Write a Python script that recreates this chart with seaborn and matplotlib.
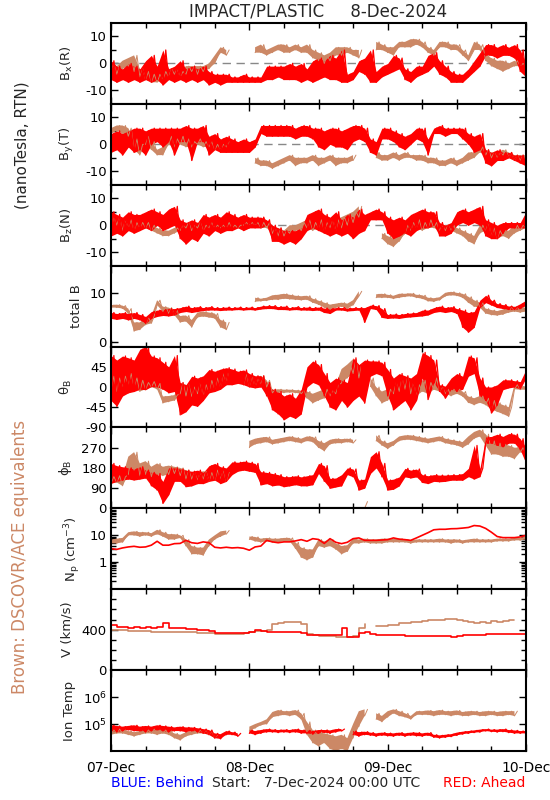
import numpy as np
import pandas as pd
import seaborn as sns
import matplotlib.pyplot as plt
from matplotlib.ticker import FixedLocator, NullFormatter, LogLocator

N = np.nan

# hours since 07-Dec-2024 00:00, one value per hour
HOURS = np.arange(73)
DAY_TICKS = [0, 24, 48, 72]
DAY_LABELS = ['07-Dec', '08-Dec', '09-Dec', '10-Dec']

# --- B_x(R) ---
BX_RED_LO = [-6, -7, -6, -7, -6, -7, -6, -7, -6, -8,
             -6, -7, -6, -7, -6, -7, -6, -8, -7, -8,
             -7, -7, -7, -7, -7, -7, -7, -6, -6, -5,
             -6, -6, -6, -7, -6, -7, -6, -5, -6, -6,
             -7, -7, -6, -3, -4, -7, -7, -5, -4, -3,
             -2, -6, -7, -5, -4, -3, -1, -4, -5, -7,
             -7, -7, -5, -3, -1, 3, 3, 2, 3, 3,
             2, -3, -5]
BX_RED_HI = [1, -1, -2, 0, -1, -2, 1, 3, -1, 5,
             -2, -1, 1, -2, -1, -2, -1, -3, -4, -4,
             -4, -5, -5, -4, -5, -5, -5, -1, -1, -1,
             -1, 0, -1, 0, -2, 1, 2, 1, 3, 2,
             5, -4, -3, 1, 2, 5, -3, -1, 0, 3,
             2, -2, -3, -1, -1, 3, 4, 1, -1, -3,
             -4, -4, -2, 1, 4, 7, 7, 6, 7, 6,
             7, 5, 0]
BX_BRN_LO = [-3, -4, -2, -1, -3, -5, -6, -7, -7, -6,
             -5, -4, -5, -4, -3, -4, -3, -2, 0, 4,
             3, N, N, N, N, 4, 4, 3, 4, 5,
             4, 4, 5, 4, 4, 2, 1, 0, 1, 3,
             3, 4, 3, 2, N, N, 5, 5, 4, 3,
             6, 6, 6, 7, 6, 4, 3, 6, 6, 5,
             5, 3, 1, 5, 5, 1, -1, -2, -3, -2,
             -1, -1, -1]
BX_BRN_HI = [0, -1, 1, 2, 3, -2, -3, -4, -4, -3,
             -2, -2, -3, -1, -1, -1, -1, 0, 3, 6,
             5, N, N, N, N, 6, 7, 5, 6, 7,
             7, 6, 7, 6, 7, 5, 4, 3, 4, 6,
             6, 6, 5, 5, N, N, 8, 7, 6, 6,
             8, 8, 9, 9, 8, 6, 5, 8, 8, 7,
             7, 5, 3, 8, 7, 3, 2, 1, 1, 0,
             1, 0, 0]

# --- B_y(T) ---
BY_RED_LO = [-3, -2, -4, -1, -3, -2, -4, 0, 1, -1,
             1, -4, 1, 1, -6, 1, 1, -4, -2, -3,
             -3, -3, -3, -3, -3, -1, 4, 3, 3, 3,
             3, 3, 2, 3, 3, 2, -1, -2, 0, -1,
             -1, -2, 1, 2, 1, -3, -4, 2, 2, 1,
             -1, -2, 0, 2, 1, -4, 4, 4, 3, 4,
             4, 2, 0, -3, -2, -7, -8, -6, -6, -5,
             -6, -7, -8]
BY_RED_HI = [4, 5, 4, 5, 6, 6, 5, 6, 6, 6,
             6, 6, 6, 7, 6, 6, 7, 3, 4, 2,
             3, 2, 1, 2, 1, 2, 7, 7, 7, 7,
             7, 7, 6, 7, 7, 6, 6, 5, 6, 6,
             5, 6, 7, 7, 6, 2, 1, 6, 6, 5,
             4, 3, 4, 6, 6, 2, 6, 7, 6, 6,
             6, 6, 4, 3, 4, -2, -3, -2, -3, -3,
             -4, -4, -5]
BY_BRN_LO = [4, 5, 4, 3, -2, -4, 0, -2, -4, -4,
             0, -1, 0, -1, -1, 0, -1, -1, -2, -2,
             -1, N, N, N, N, -7, -8, -8, -9, -8,
             -7, -6, -8, -7, -7, -6, -8, -7, -6, -8,
             -7, -7, -6, N, N, N, -5, -6, -6, -5,
             -6, -5, -5, -6, -6, -7, -7, -8, -8, -7,
             -8, -7, -6, -5, -3, -4, -5, -5, -4, -5,
             -6, -6, -6]
BY_BRN_HI = [6, 7, 7, 6, 2, 0, 3, 1, -2, -1,
             3, 2, 3, 2, 1, 2, 1, 1, 0, 0,
             1, N, N, N, N, -5, -6, -6, -7, -6,
             -5, -4, -5, -5, -5, -4, -5, -5, -4, -5,
             -5, -5, -4, N, N, N, -3, -4, -4, -3,
             -4, -3, -4, -4, -4, -5, -5, -6, -6, -5,
             -6, -5, -3, -3, -1, -2, -3, -3, -2, -3,
             -4, -4, -4]

# --- B_z(N) ---
BZ_RED_LO = [-4, -3, -4, -2, -3, -2, -1, -2, 0, -2,
             -1, 0, -5, -7, -5, -6, -3, -4, -2, -3,
             -2, -2, -1, -2, -1, -1, -1, 0, -6, -6,
             -7, -6, -7, -5, -2, -1, -2, -3, -4, -3,
             -4, -3, -5, -3, -2, 2, 2, 2, -3, -5,
             -4, -3, -4, -2, -1, -1, 0, -4, -4, -3,
             0, 1, 0, 1, 0, -4, -5, -5, -3, -1,
             -1, -1, -1]
BZ_RED_HI = [5, 4, 3, 5, 4, 4, 5, 6, 5, 4,
             6, 7, 2, 1, 2, 1, 4, 3, 4, 3,
             5, 4, 3, 4, 3, 3, 3, 2, 0, -1,
             -2, -2, -2, -1, 4, 5, 6, 4, 3, 5,
             2, 4, 3, 6, 4, 5, 6, 5, 3, 2,
             3, 2, 4, 5, 6, 5, 5, 1, 0, 1,
             5, 6, 5, 6, 7, 2, 1, 0, 1, 1,
             1, 1, 5]
BZ_BRN_LO = [-1, 0, -2, -1, -2, -1, -1, -2, -3, -4,
             -4, -3, -2, -1, -2, -1, -2, -1, -1, -1,
             -1, -1, -1, 0, 0, 0, -1, -1, -3, -4,
             -4, -3, -2, -2, -1, -2, -1, -2, -1, -2,
             -1, 0, 1, 3, N, N, N, -5, -7, -8,
             -6, -3, -2, -1, -2, -1, -1, -2, -2, -2,
             -3, -4, -6, -7, -3, -2, -4, -5, -4, -5,
             -3, -2, -1]
BZ_BRN_HI = [3, 3, 2, 2, 1, 1, 1, 0, -1, -2,
             -2, -1, 0, 1, 0, 1, 0, 1, 0, 0,
             1, 0, 0, 1, 1, 1, 1, 1, -1, -1,
             -2, 0, 0, 1, 2, 1, 2, 1, 2, 2,
             3, 4, 5, 7, N, N, N, -3, -4, -5,
             -4, 0, 1, 2, 1, 2, 1, 0, 0, 0,
             -1, -2, -3, -4, 0, 1, -1, -2, -2, -2,
             0, 0, 0]

# --- total B ---
BT_RED_LO = [4.8, 4.6, 4.8, 4.5, 4.8, 4.5, 3.8, 4.8, 5.2, 5.4,
             5.3, 5.5, 6.0, 6.2, 6.0, 6.2, 6.4, 6.5, 6.5, 6.4,
             6.5, 6.5, 6.6, 6.5, 6.6, 6.5, 6.7, 6.8, 6.8, 6.6,
             6.6, 6.5, 6.6, 6.5, 6.5, 6.4, 6.5, 6.0, 5.8, 6.5,
             6.5, 6.3, 6.4, 6.5, 4.0, 6.8, 6.6, 5.0, 4.8, 4.9,
             4.8, 5.0, 5.1, 5.2, 5.3, 5.5, 6.0, 6.2, 6.0, 6.2,
             5.8, 3.0, 2.0, 3.0, 7.0, 8.0, 7.5, 7.0, 6.8, 6.6,
             6.6, 6.8, 7.5]
BT_RED_HI = [6.0, 5.8, 6.0, 5.8, 6.0, 5.6, 5.2, 6.2, 6.5, 6.6,
             6.8, 6.8, 7.0, 7.3, 7.0, 7.2, 7.0, 7.2, 7.0, 7.0,
             7.1, 7.0, 7.1, 7.0, 7.1, 7.0, 7.3, 7.4, 7.4, 7.2,
             7.3, 7.0, 7.2, 7.0, 7.1, 7.0, 7.1, 6.9, 6.8, 7.0,
             7.0, 6.9, 7.0, 7.0, 7.0, 7.5, 7.4, 6.8, 5.6, 5.7,
             5.6, 5.8, 5.9, 6.0, 6.5, 6.5, 7.0, 7.3, 7.0, 7.2,
             6.8, 6.5, 6.0, 6.2, 8.5, 9.5, 8.5, 7.8, 7.6, 7.3,
             7.2, 7.8, 8.5]
BT_BRN_LO = [7.0, 7.0, 6.8, 5.8, 2.2, 2.5, 3.5, 3.8, 7.5, 6.2,
             5.8, 5.5, 4.0, 4.2, 3.0, 5.0, 5.2, 5.0, 4.8, 3.0,
             2.5, N, N, N, N, 8.2, 8.3, 8.4, 8.6, 8.6,
             8.8, 8.7, 8.6, 8.5, 8.6, 8.0, 7.6, 7.0, 6.6, 7.0,
             7.2, 6.8, 7.5, 9.3, N, N, 9.0, 9.0, 9.0, 8.8,
             9.0, 9.2, 9.3, 9.0, 8.8, 8.3, 8.2, 8.5, 9.3, 9.5,
             9.4, 9.0, 8.0, 7.2, 7.0, 5.8, 5.5, 5.4, 5.6, 6.0,
             6.2, 6.0, 6.2]
BT_BRN_HI = [7.5, 7.6, 7.4, 6.8, 4.0, 4.0, 5.0, 5.3, 8.5, 7.2,
             7.0, 6.5, 5.3, 5.4, 4.5, 6.0, 6.2, 6.0, 5.8, 4.5,
             4.0, N, N, N, N, 9.0, 8.8, 9.0, 9.5, 9.6,
             9.8, 9.6, 9.4, 9.3, 9.4, 8.8, 8.4, 8.0, 7.6, 7.8,
             8.0, 7.8, 8.5, 10.3, N, N, 9.7, 9.8, 9.6, 9.4,
             9.8, 9.8, 9.9, 9.6, 9.5, 9.0, 8.9, 9.1, 10.0, 10.2,
             10.0, 9.8, 9.2, 8.5, 8.0, 6.8, 6.5, 6.3, 6.6, 7.2,
             7.2, 7.0, 7.0]

# --- theta_B ---
TH_RED_LO = [-30, -43, -20, -13, -10, -5, -6, 1, 0, -5,
             -13, -10, -62, -55, -40, -43, -30, -13, -10, -5,
             5, 5, 8, 5, 0, -2, 0, -20, -51, -60,
             -73, -65, -70, -60, 0, 10, 5, -20, -45, -51,
             -30, -45, -30, -20, -36, 24, 30, 25, -20, -51,
             -40, -30, -51, -30, 20, -28, 10, -10, -25, -5,
             -10, -5, 24, 30, -20, -30, -58, -40, -6, -2,
             0, -4, 20]
TH_RED_HI = [70, 60, 69, 65, 60, 84, 90, 69, 65, 55,
             45, 70, 10, 5, 24, 20, 25, 39, 35, 40,
             43, 40, 35, 38, 30, 25, 25, 10, -5, -10,
             -20, -15, -25, -5, 45, 58, 50, 30, 10, 20,
             15, 10, 65, 50, 60, 58, 58, 55, 39, 20,
             30, 25, 20, 30, 77, 70, 60, 5, 2, 20,
             30, 24, 69, 65, 20, 0, 0, 5, 16, 16,
             14, 12, 39]
TH_BRN_LO = [-6, -10, 0, 5, 0, -10, -5, 0, -5, -36,
             -33, -30, -15, -20, -21, -15, -20, -10, -5, 0,
             10, N, N, 5, 1, 0, 5, 0, -13, -12,
             -13, -12, -13, -15, -25, -36, -30, -25, -20, -15,
             9, 20, 30, 20, N, 1, -20, -36, -30, -15,
             -10, -5, -15, -20, -10, -15, -6, -10, -15, -20,
             -15, -21, -35, -40, -35, -40, -50, -55, -60, -66,
             -5, -6, -6]
TH_BRN_HI = [24, 20, 24, 30, 20, 15, 10, 12, 8, -21,
             -20, -18, 9, 5, 0, 9, 5, 15, 20, 30,
             39, N, N, 30, 25, 20, 25, 15, -6, -5,
             -6, -6, -7, -8, -10, -15, -10, -5, -8, 5,
             40, 50, 62, 50, N, 20, 0, -10, -5, 10,
             20, 24, 10, 5, 15, 10, 20, 1, -5, -5,
             -5, -10, -21, -25, -20, -25, -30, -35, -40, -45,
             5, 1, 1]

# --- phi_B ---
PH_RED_LO = [111, 120, 126, 130, 126, 130, 135, 100, 81, 22,
             60, 120, 120, 96, 100, 110, 110, 120, 125, 110,
             120, 150, 165, 170, 165, 160, 104, 110, 100, 104,
             96, 100, 105, 100, 100, 105, 155, 120, 89, 95,
             100, 150, 140, 81, 90, 155, 180, 140, 81, 85,
             100, 140, 135, 140, 115, 110, 120, 118, 120, 125,
             125, 125, 141, 130, 141, 289, 290, 280, 274, 290,
             290, 260, 200]
PH_RED_HI = [200, 190, 185, 180, 175, 185, 170, 160, 155, 120,
             180, 180, 175, 170, 165, 170, 160, 190, 200, 185,
             180, 207, 205, 210, 205, 200, 163, 160, 155, 150,
             141, 141, 145, 140, 145, 150, 200, 190, 133, 135,
             150, 180, 175, 126, 130, 230, 252, 200, 126, 130,
             140, 178, 170, 175, 150, 145, 150, 148, 148, 150,
             150, 155, 178, 280, 178, 318, 320, 330, 320, 333,
             330, 310, 270]
PH_BRN_LO = [111, 115, 100, 150, 170, 140, 150, 141, 150, 145,
             150, 155, 145, 130, 130, 125, 130, 120, 125, 130,
             120, N, N, N, 270, 285, 290, 295, 285, 290,
             295, 300, 295, 290, 300, 295, 270, 255, 285, 290,
             290, 295, 290, N, 0, N, 300, 280, 265, 280,
             300, 305, 305, 300, 295, 290, 295, 300, 290, 285,
             280, 270, 285, 310, 320, 280, 240, 240, 230, 230,
             220, 250, 240]
PH_BRN_HI = [141, 145, 140, 230, 250, 200, 210, 185, 200, 185,
             190, 185, 180, 170, 160, 160, 165, 160, 170, 170,
             160, N, N, N, 300, 310, 315, 318, 305, 310,
             315, 320, 315, 310, 320, 318, 300, 290, 305, 310,
             308, 310, 305, N, 30, N, 325, 300, 290, 300,
             320, 325, 325, 320, 315, 310, 315, 320, 310, 305,
             300, 295, 320, 340, 350, 330, 300, 290, 285, 280,
             270, 270, 260]

# --- proton density (cm^-3) ---
NP_RED = [3.2, 3.0, 3.4, 3.7, 3.9, 3.6, 3.7, 4.3, 6.0, 4.3,
          4.3, 4.9, 5.0, 6.5, 5.3, 5.0, 5.7, 5.3, 3.6, 3.4,
          3.6, 3.4, 3.5, 3.3, 2.8, 3.7, 4.0, 6.5, 5.7, 5.3,
          5.7, 5.7, 6.2, 6.9, 6.0, 7.5, 7.0, 5.0, 7.5, 5.5,
          4.9, 5.5, 7.5, 8.0, 6.5, 6.5, 6.5, 6.7, 6.9, 8.0,
          7.2, 6.9, 6.5, 8.0, 10, 12.5, 16, 16.7, 16.7, 17.5,
          17.7, 18.5, 19.5, 23, 22, 18, 13, 9, 8.2, 8.2,
          8.2, 8.7, 10]
NP_BRN_LO = [5, 5, 5.5, 10, 10, 9, 10, 9, 11, 9,
             7, 7, 8, 4, 2, 2, 1.8, 4, 7, 9,
             11, N, N, N, 7, 6, 5.5, 6, 5.5, 5.5,
             6, 6, 3.2, 1.5, 1.2, 1.5, 4, 3.5, 4, 3,
             2, 2.5, 5, 5, 5.5, 5, 5, 5, 5.5, 5.5,
             5.5, 5.5, 5, 5.5, 5.5, 5.5, 5.5, 5.5, 5.5, 5,
             5.5, 5, 5.5, 5.5, 5.5, 5.5, 5.5, 6, 6, 6,
             6.5, 6.5, 7]
NP_BRN_HI = [7, 7.5, 8, 13, 14, 13, 13, 12, 16, 13,
             11, 11, 10, 7, 4, 3.5, 3.5, 7, 10, 14,
             15, N, N, N, 9, 8.7, 7.5, 8, 7.5, 7.5,
             8, 8, 5.5, 3.5, 3, 3, 7, 6, 7, 5,
             4, 4.3, 7.5, 7, 7.5, 7, 7, 7.5, 7.5, 7.5,
             7.5, 7, 6.5, 7, 7, 7, 7, 7.5, 7, 7,
             7, 6.5, 7, 7.5, 7, 7, 7, 7.5, 7.5, 7.5,
             8, 8, 9]

# --- bulk speed (km/s) ---
V_RED = [445, 430, 425, 420, 430, 415, 425, 420, 430, 465,
         420, 415, 420, 410, 405, 400, 395, 385, 370, 365,
         368, 365, 365, 365, 372, 400, 385, 380, 378, 375,
         380, 375, 378, 370, 345, 348, 350, 345, 352, 350,
         415, 330, 330, 368, 375, 355, 350, 352, 350, 345,
         345, 340, 338, 340, 338, 342, 340, 338, 335, 332,
         335, 345, 348, 350, 352, 355, 358, 360, 360, 360,
         360, 362, 375]
V_BRN = [395, 395, 392, 390, 390, 385, 385, 380, 380, 378,
         380, 375, 375, 375, 372, 370, 370, 365, 362, 360,
         360, 360, 362, 365, 380, 385, 390, 392, 460, 470,
         475, 478, 480, 460, 360, 345, 340, 335, 335, 330,
         330, 330, 340, 420, 455, N, 440, 440, 445, 450,
         465, 470, 475, 480, 490, 495, 495, 500, 505, 510,
         495, 485, 475, 470, 480, 470, 490, 480, 485, 495,
         500, N, 495]

# --- ion temperature (K) ---
T_RED_LO = [55e3, 50e3, 55e3, 60e3, 55e3, 55e3, 50e3, 55e3, 60e3, 55e3,
            50e3, 55e3, 55e3, 50e3, 55e3, 50e3, 45e3, 40e3, 30e3, 28e3,
            40e3, 40e3, 35e3, N, 45e3, 40e3, 45e3, 50e3, 50e3, 48e3,
            50e3, 48e3, 50e3, 45e3, 45e3, 42e3, 45e3, 48e3, 45e3, 50e3,
            55e3, N, 40e3, 35e3, 40e3, 38e3, 35e3, 38e3, 36e3, 35e3,
            38e3, 35e3, 38e3, 36e3, 35e3, 38e3, 32e3, 30e3, 32e3, 34e3,
            38e3, 42e3, 45e3, 48e3, 50e3, 55e3, 52e3, 50e3, 52e3, 48e3,
            45e3, 45e3, 45e3]
T_RED_HI = [90e3, 85e3, 80e3, 85e3, 90e3, 80e3, 85e3, 80e3, 90e3, 85e3,
            80e3, 75e3, 80e3, 75e3, 75e3, 70e3, 65e3, 60e3, 45e3, 42e3,
            55e3, 50e3, 45e3, N, 60e3, 55e3, 60e3, 65e3, 62e3, 60e3,
            62e3, 60e3, 65e3, 60e3, 58e3, 55e3, 60e3, 60e3, 58e3, 65e3,
            65e3, N, 55e3, 50e3, 52e3, 48e3, 45e3, 48e3, 46e3, 45e3,
            48e3, 45e3, 48e3, 48e3, 45e3, 48e3, 40e3, 38e3, 40e3, 42e3,
            48e3, 52e3, 55e3, 58e3, 62e3, 65e3, 62e3, 62e3, 65e3, 60e3,
            58e3, 55e3, 55e3]
T_BRN_LO = [40e3, 45e3, 45e3, 40e3, 35e3, 40e3, 45e3, 45e3, 40e3, 45e3,
            40e3, 30e3, 25e3, 35e3, 40e3, 45e3, 45e3, 40e3, 30e3, N,
            N, N, N, N, 55e3, 70e3, 90e3, 100e3, 180e3, 200e3,
            220e3, 200e3, 220e3, 150e3, 40e3, 20e3, 15e3, 20e3, 12e3, 10e3,
            12e3, 10e3, 30e3, 80e3, 200e3, N, 150e3, 120e3, 180e3, 250e3,
            200e3, 180e3, 150e3, 220e3, 220e3, 220e3, 200e3, 220e3, 220e3, 200e3,
            220e3, 200e3, 200e3, 220e3, 200e3, 200e3, 220e3, 200e3, 200e3, 220e3,
            200e3, N, 220e3]
T_BRN_HI = [60e3, 65e3, 60e3, 55e3, 50e3, 55e3, 60e3, 65e3, 60e3, 60e3,
            55e3, 45e3, 40e3, 50e3, 55e3, 60e3, 60e3, 55e3, 40e3, N,
            N, N, N, N, 80e3, 100e3, 120e3, 150e3, 280e3, 330e3,
            300e3, 300e3, 330e3, 250e3, 120e3, 60e3, 50e3, 45e3, 40e3, 35e3,
            40e3, 30e3, 100e3, 300e3, 350e3, N, 250e3, 200e3, 300e3, 350e3,
            300e3, 250e3, 200e3, 300e3, 300e3, 320e3, 300e3, 330e3, 300e3, 300e3,
            320e3, 280e3, 300e3, 300e3, 280e3, 300e3, 300e3, 280e3, 300e3, 300e3,
            300e3, N, 300e3]

RED = '#FF0000'
BROWN = '#CC8866'

sns.set_style('ticks')
plt.rcParams['font.family'] = ['DejaVu Sans']
plt.rcParams['mathtext.default'] = 'regular'

W_PX, H_PX = 550, 800
fig = plt.figure(figsize=(W_PX / 100, H_PX / 100), dpi=100)

LEFT, RIGHT, TOP, BOTTOM = 111, 526, 23, 751
PH = (BOTTOM - TOP) / 9


def line(ax, t, vals, color, lw, **kw):
    v = np.asarray(vals, float)
    df = pd.DataFrame({'t': t, 'v': v, 'seg': np.cumsum(np.isnan(v))}).dropna()
    sns.lineplot(data=df, x='t', y='v', units='seg', estimator=None,
                 color=color, lw=lw, ax=ax, legend=False, **kw)


def band(ax, lo, hi, color, lw):
    # hourly spread of the 1-min samples: solid band plus a lo/hi zigzag for texture
    lo = np.asarray(lo, float)
    hi = np.asarray(hi, float)
    ax.fill_between(HOURS, lo, hi, color=color, lw=0)
    t = np.column_stack([HOURS, HOURS + 0.5]).ravel()
    v = np.column_stack([lo, hi]).ravel()
    line(ax, t, v, color, lw)


panels = [
    dict(label=r'B$_x$(R)', lx=67, red=(BX_RED_LO, BX_RED_HI), brn=(BX_BRN_LO, BX_BRN_HI),
         ylim=(-15, 15), major=[-10, 0, 10], minor=[-5, 5], zero=True),
    dict(label=r'B$_y$(T)', lx=67, red=(BY_RED_LO, BY_RED_HI), brn=(BY_BRN_LO, BY_BRN_HI),
         ylim=(-15, 15), major=[-10, 0, 10], minor=[-5, 5], zero=True),
    dict(label=r'B$_z$(N)', lx=67, red=(BZ_RED_LO, BZ_RED_HI), brn=(BZ_BRN_LO, BZ_BRN_HI),
         ylim=(-15, 15), major=[-10, 0, 10], minor=[-5, 5], zero=True),
    dict(label='total B', lx=76, red=(BT_RED_LO, BT_RED_HI), brn=(BT_BRN_LO, BT_BRN_HI),
         ylim=(-0.9, 15.5), major=[0, 10], minor=[5]),
    dict(label=r'$\theta_B$', lx=66, red=(TH_RED_LO, TH_RED_HI), brn=(TH_BRN_LO, TH_BRN_HI),
         ylim=(-90, 90), major=[-90, -45, 0, 45], minor=[]),
    dict(label=r'$\phi_B$', lx=66, red=(PH_RED_LO, PH_RED_HI), brn=(PH_BRN_LO, PH_BRN_HI),
         ylim=(0, 360), major=[0, 90, 180, 270], minor=[]),
    dict(label=r'N$_p$ (cm$^{-3}$)', lx=73, red=(NP_RED, None), brn=(NP_BRN_LO, NP_BRN_HI),
         ylim=(0.1, 100), major=[1, 10], log=True),
    dict(label='V (km/s)', lx=67, red=(V_RED, None), brn=(V_BRN, None),
         ylim=(0, 800), major=[0, 400], minor=[100, 200, 300, 500, 600, 700]),
    dict(label='Ion Temp', lx=70, red=(T_RED_LO, T_RED_HI), brn=(T_BRN_LO, T_BRN_HI),
         ylim=(1e4, 1e7), major=[1e5, 1e6], log=True,
         ticklabels=[r'10$^5$', r'10$^6$']),
]

for i, p in enumerate(panels):
    y0 = TOP + i * PH
    ax = fig.add_axes([LEFT / W_PX, 1 - (y0 + PH) / H_PX, (RIGHT - LEFT) / W_PX, PH / H_PX])
    if p.get('log'):
        ax.set_yscale('log')
    if p.get('zero'):
        ax.axhline(0, color='#888888', lw=1, dashes=(6, 4), zorder=1)

    for (lo, hi), color, zlw in ((p['brn'], BROWN, 0.7), (p['red'], RED, 0.9)):
        if hi is None:
            line(ax, HOURS, lo, color, 1.2, drawstyle='steps-post' if i == 7 else 'default')
        else:
            band(ax, lo, hi, color, zlw)

    ax.set_xlim(0, 72)
    ax.set_ylim(*p['ylim'])
    ax.set_xlabel('')
    ax.set_ylabel('')

    ax.xaxis.set_major_locator(FixedLocator(DAY_TICKS))
    ax.xaxis.set_minor_locator(FixedLocator([h for h in range(0, 73, 6) if h % 24]))
    if i == 8:
        ax.set_xticklabels(DAY_LABELS)
    else:
        ax.xaxis.set_major_formatter(NullFormatter())

    ax.yaxis.set_major_locator(FixedLocator(p['major']))
    if p.get('log'):
        if i == 6:
            ax.yaxis.set_minor_locator(LogLocator(base=10, subs=np.arange(2, 10)))
        else:
            ax.yaxis.set_minor_locator(FixedLocator([]))
        ax.yaxis.set_minor_formatter(NullFormatter())
        ax.set_yticklabels(p.get('ticklabels', [str(v) for v in p['major']]))
    else:
        ax.yaxis.set_minor_locator(FixedLocator(p['minor']))
        ax.set_yticklabels([str(v) for v in p['major']])

    ax.tick_params(which='both', direction='in', top=True, right=True, width=1,
                   labelsize=9.5, colors='black')
    ax.tick_params(which='major', length=5, pad=3)
    ax.tick_params(which='minor', length=3.5)
    ax.tick_params(axis='x', which='major', pad=7, labelsize=10)
    for s in ax.spines.values():
        s.set_linewidth(1.5)
        s.set_color('black')
        s.set_zorder(5)

    fig.text(p['lx'] / W_PX, 1 - (y0 + PH / 2) / H_PX, p['label'], rotation=90,
             ha='center', va='center', fontsize=9.5)

fig.text(318 / W_PX, 1 - 12 / H_PX, 'IMPACT/PLASTIC     8-Dec-2024',
         ha='center', va='center', fontsize=12)
fig.text(22 / W_PX, 1 - 145 / H_PX, '(nanoTesla, RTN)', rotation=90,
         ha='center', va='center', fontsize=11)
fig.text(20 / W_PX, 1 - 557 / H_PX, 'Brown: DSCOVR/ACE equivalents', rotation=90,
         ha='center', va='center', fontsize=12, color=BROWN)
fig.text(111 / W_PX, 1 - 783 / H_PX, 'BLUE: Behind', ha='left', va='center',
         fontsize=10, color='#0000FF')
fig.text(212 / W_PX, 1 - 783 / H_PX, 'Start:   7-Dec-2024 00:00 UTC', ha='left',
         va='center', fontsize=10)
fig.text(525 / W_PX, 1 - 783 / H_PX, 'RED: Ahead', ha='right', va='center',
         fontsize=10, color=RED)

fig.savefig('out.png', dpi=100)
